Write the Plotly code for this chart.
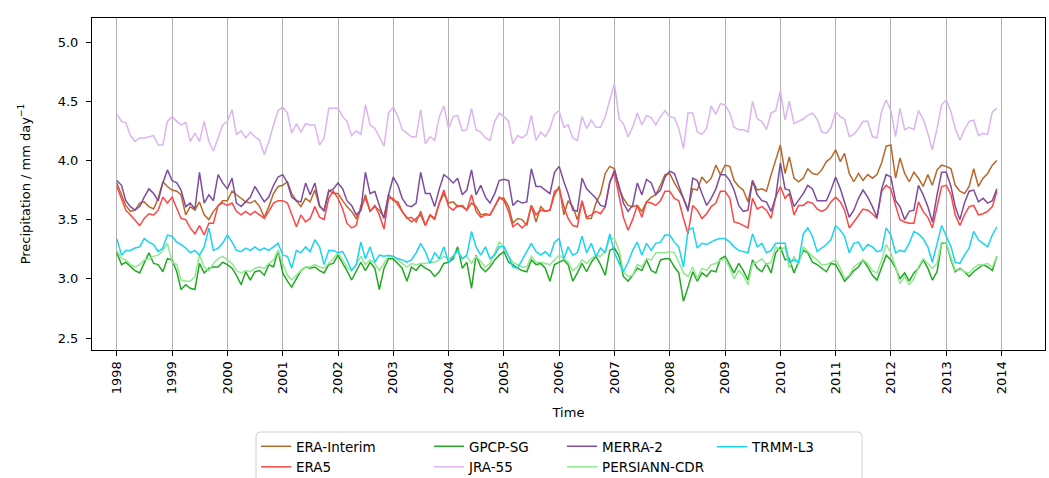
import pandas as pd
import plotly.graph_objects as go

# Monthly time axis, Jan 1998 - Dec 2013
months = pd.date_range("1998-01-01", "2013-12-01", freq="MS")
year_ticks = list(range(1998, 2015))

# Monthly mean precipitation (mm/day), one row per year
era_interim = [
    3.81, 3.71, 3.62, 3.57, 3.58, 3.64, 3.65, 3.61, 3.59, 3.68, 3.82, 3.78,
    3.75, 3.74, 3.71, 3.54, 3.61, 3.58, 3.65, 3.54, 3.50, 3.57, 3.62, 3.66,
    3.66, 3.74, 3.71, 3.68, 3.65, 3.64, 3.66, 3.61, 3.52, 3.61, 3.72, 3.78,
    3.79, 3.82, 3.72, 3.66, 3.61, 3.68, 3.65, 3.75, 3.61, 3.58, 3.75, 3.72,
    3.72, 3.66, 3.61, 3.57, 3.51, 3.58, 3.71, 3.57, 3.61, 3.58, 3.52, 3.71,
    3.66, 3.65, 3.57, 3.52, 3.48, 3.51, 3.54, 3.45, 3.54, 3.50, 3.64, 3.72,
    3.64, 3.65, 3.61, 3.62, 3.58, 3.64, 3.61, 3.54, 3.55, 3.54, 3.61, 3.68,
    3.68, 3.61, 3.47, 3.51, 3.50, 3.45, 3.62, 3.48, 3.61, 3.57, 3.58, 3.71,
    3.78, 3.54, 3.66, 3.61, 3.50, 3.65, 3.51, 3.51, 3.64, 3.72, 3.89, 3.95,
    3.93, 3.76, 3.68, 3.62, 3.61, 3.62, 3.57, 3.65, 3.69, 3.71, 3.79, 3.88,
    3.89, 3.81, 3.75, 3.68, 3.59, 3.76, 3.75, 3.86, 3.81, 3.85, 3.96, 3.88,
    3.96, 3.95, 3.83, 3.78, 3.75, 3.65, 3.83, 3.75, 3.76, 3.74, 3.88, 4.00,
    4.13, 3.89, 4.03, 3.85, 3.82, 3.85, 3.93, 3.89, 3.88, 3.92, 3.99, 4.02,
    4.09, 3.99, 4.06, 3.89, 3.82, 3.89, 3.83, 3.88, 3.85, 3.88, 3.98, 4.12,
    4.13, 3.85, 4.02, 3.89, 3.82, 3.90, 3.85, 3.78, 3.88, 3.79, 3.92, 3.96,
    3.95, 3.93, 3.79, 3.74, 3.72, 3.78, 3.93, 3.78, 3.85, 3.89, 3.96, 4.00,
]

era5 = [
    3.78, 3.68, 3.58, 3.54, 3.50, 3.45, 3.51, 3.55, 3.54, 3.58, 3.69, 3.64,
    3.69, 3.59, 3.51, 3.50, 3.43, 3.38, 3.45, 3.37, 3.47, 3.47, 3.62, 3.64,
    3.62, 3.64, 3.57, 3.54, 3.57, 3.54, 3.57, 3.54, 3.51, 3.57, 3.64, 3.66,
    3.66, 3.64, 3.54, 3.44, 3.54, 3.48, 3.51, 3.61, 3.52, 3.50, 3.68, 3.74,
    3.68, 3.59, 3.47, 3.43, 3.45, 3.62, 3.68, 3.57, 3.62, 3.54, 3.42, 3.68,
    3.68, 3.62, 3.57, 3.51, 3.52, 3.48, 3.57, 3.45, 3.54, 3.51, 3.64, 3.75,
    3.61, 3.58, 3.62, 3.61, 3.58, 3.71, 3.57, 3.52, 3.54, 3.54, 3.61, 3.69,
    3.66, 3.57, 3.44, 3.47, 3.43, 3.47, 3.62, 3.54, 3.58, 3.57, 3.58, 3.74,
    3.76, 3.61, 3.51, 3.45, 3.44, 3.66, 3.52, 3.54, 3.57, 3.55, 3.61, 3.82,
    3.89, 3.69, 3.52, 3.41, 3.50, 3.62, 3.52, 3.65, 3.64, 3.62, 3.66, 3.74,
    3.74, 3.68, 3.66, 3.51, 3.38, 3.62, 3.58, 3.51, 3.55, 3.61, 3.64, 3.74,
    3.74, 3.68, 3.48, 3.47, 3.45, 3.43, 3.68, 3.59, 3.61, 3.58, 3.51, 3.69,
    3.78, 3.68, 3.72, 3.54, 3.62, 3.62, 3.65, 3.64, 3.59, 3.57, 3.59, 3.65,
    3.69, 3.65, 3.58, 3.43, 3.48, 3.54, 3.59, 3.58, 3.55, 3.51, 3.74, 3.79,
    3.76, 3.62, 3.50, 3.48, 3.47, 3.47, 3.65, 3.57, 3.52, 3.43, 3.61, 3.78,
    3.79, 3.71, 3.54, 3.45, 3.54, 3.61, 3.62, 3.54, 3.55, 3.57, 3.61, 3.74,
]

gpcp_sg = [
    3.22, 3.12, 3.14, 3.10, 3.07, 3.05, 3.13, 3.22, 3.13, 3.12, 3.06, 3.17,
    3.16, 3.06, 2.91, 2.95, 2.92, 2.91, 3.13, 3.05, 3.09, 3.10, 3.10, 3.14,
    3.12, 3.09, 3.03, 2.95, 3.06, 2.99, 3.06, 3.07, 3.03, 3.12, 3.10, 3.24,
    3.05, 2.98, 2.93, 3.00, 3.07, 3.10, 3.09, 3.10, 3.07, 3.05, 3.12, 3.13,
    3.20, 3.13, 3.07, 2.99, 3.06, 3.14, 3.07, 3.14, 3.09, 2.91, 3.09, 3.17,
    3.17, 3.13, 3.09, 2.98, 3.10, 3.07, 3.12, 3.09, 3.07, 3.02, 3.06, 3.13,
    3.14, 3.17, 3.27, 3.09, 3.14, 2.92, 3.20, 3.10, 3.06, 3.10, 3.16, 3.20,
    3.23, 3.14, 3.12, 3.09, 3.07, 3.06, 3.16, 3.12, 3.13, 3.09, 2.98, 3.12,
    3.14, 3.16, 3.12, 2.98, 3.05, 3.13, 3.06, 3.14, 3.19, 3.12, 3.03, 3.24,
    3.26, 3.19, 3.02, 2.98, 3.03, 3.09, 3.07, 3.16, 3.07, 3.05, 3.16, 3.17,
    3.17, 3.10, 3.05, 2.81, 2.93, 3.06, 2.98, 3.05, 3.02, 3.07, 3.06, 3.17,
    3.19, 3.12, 3.05, 3.13, 3.07, 2.99, 3.16, 3.09, 3.06, 3.13, 3.05, 3.22,
    3.27, 3.16, 3.17, 3.05, 3.14, 3.24, 3.22, 3.14, 3.12, 3.09, 3.06, 3.13,
    3.12, 3.05, 2.98, 3.02, 3.07, 3.10, 3.16, 3.10, 3.03, 2.99, 3.09, 3.20,
    3.16, 3.09, 3.00, 3.05, 2.98, 3.05, 3.09, 3.16, 3.09, 2.99, 3.06, 3.30,
    3.30, 3.16, 3.06, 3.09, 3.06, 3.02, 3.06, 3.09, 3.12, 3.10, 3.07, 3.19,
]

jra55 = [
    4.39, 4.33, 4.32, 4.21, 4.16, 4.19, 4.19, 4.20, 4.21, 4.13, 4.13, 4.33,
    4.37, 4.33, 4.30, 4.32, 4.16, 4.23, 4.16, 4.33, 4.16, 4.08, 4.19, 4.30,
    4.33, 4.43, 4.22, 4.25, 4.19, 4.24, 4.20, 4.17, 4.05, 4.16, 4.30, 4.42,
    4.45, 4.40, 4.23, 4.31, 4.24, 4.31, 4.30, 4.30, 4.13, 4.19, 4.44, 4.44,
    4.44, 4.37, 4.33, 4.21, 4.25, 4.22, 4.47, 4.30, 4.27, 4.20, 4.12, 4.40,
    4.45, 4.37, 4.26, 4.23, 4.20, 4.20, 4.43, 4.14, 4.20, 4.17, 4.37, 4.46,
    4.27, 4.37, 4.38, 4.25, 4.26, 4.44, 4.26, 4.24, 4.19, 4.17, 4.33, 4.40,
    4.37, 4.33, 4.14, 4.21, 4.19, 4.22, 4.38, 4.17, 4.24, 4.20, 4.27, 4.39,
    4.42, 4.28, 4.30, 4.19, 4.17, 4.37, 4.27, 4.34, 4.28, 4.28, 4.37, 4.51,
    4.65, 4.35, 4.31, 4.20, 4.28, 4.40, 4.30, 4.38, 4.36, 4.30, 4.37, 4.42,
    4.37, 4.36, 4.27, 4.10, 4.40, 4.40, 4.24, 4.22, 4.27, 4.46, 4.39, 4.48,
    4.47, 4.40, 4.28, 4.26, 4.26, 4.24, 4.50, 4.35, 4.33, 4.26, 4.40, 4.42,
    4.59, 4.34, 4.50, 4.31, 4.33, 4.35, 4.38, 4.40, 4.35, 4.24, 4.23, 4.28,
    4.41, 4.37, 4.35, 4.20, 4.22, 4.27, 4.33, 4.33, 4.20, 4.19, 4.42, 4.51,
    4.42, 4.20, 4.44, 4.26, 4.28, 4.26, 4.42, 4.35, 4.23, 4.09, 4.27, 4.47,
    4.51, 4.41, 4.27, 4.17, 4.26, 4.33, 4.34, 4.21, 4.23, 4.22, 4.41, 4.44,
]

merra2 = [
    3.83, 3.79, 3.66, 3.61, 3.58, 3.61, 3.69, 3.76, 3.72, 3.66, 3.81, 3.92,
    3.83, 3.81, 3.75, 3.61, 3.64, 3.59, 3.90, 3.64, 3.71, 3.66, 3.88, 3.81,
    3.76, 3.85, 3.64, 3.61, 3.65, 3.69, 3.78, 3.71, 3.65, 3.69, 3.79, 3.86,
    3.88, 3.81, 3.69, 3.66, 3.65, 3.81, 3.71, 3.81, 3.62, 3.57, 3.74, 3.76,
    3.81, 3.76, 3.66, 3.62, 3.54, 3.58, 3.90, 3.72, 3.74, 3.62, 3.51, 3.71,
    3.86, 3.79, 3.68, 3.62, 3.61, 3.64, 3.90, 3.72, 3.72, 3.61, 3.76, 3.88,
    3.85, 3.81, 3.85, 3.71, 3.75, 3.92, 3.71, 3.79, 3.69, 3.64, 3.72, 3.83,
    3.84, 3.83, 3.62, 3.66, 3.64, 3.65, 3.93, 3.78, 3.78, 3.75, 3.72, 3.90,
    3.95, 3.82, 3.72, 3.58, 3.57, 3.85, 3.76, 3.72, 3.68, 3.62, 3.61, 3.81,
    3.92, 3.78, 3.64, 3.57, 3.62, 3.81, 3.71, 3.84, 3.81, 3.71, 3.75, 3.86,
    3.91, 3.89, 3.79, 3.68, 3.57, 3.85, 3.83, 3.72, 3.62, 3.68, 3.76, 3.88,
    3.88, 3.83, 3.75, 3.62, 3.57, 3.58, 3.83, 3.71, 3.66, 3.65, 3.57, 3.69,
    3.98, 3.76, 3.75, 3.61, 3.66, 3.72, 3.79, 3.76, 3.66, 3.66, 3.66, 3.75,
    3.86, 3.76, 3.64, 3.52, 3.58, 3.68, 3.75, 3.69, 3.61, 3.52, 3.76, 3.88,
    3.86, 3.66, 3.61, 3.50, 3.57, 3.58, 3.79, 3.71, 3.61, 3.48, 3.71, 3.90,
    3.90, 3.78, 3.61, 3.50, 3.64, 3.74, 3.75, 3.65, 3.68, 3.64, 3.66, 3.76,
]

persiann_cdr = [
    3.24, 3.17, 3.16, 3.12, 3.10, 3.12, 3.16, 3.17, 3.19, 3.20, 3.24, 3.30,
    3.14, 3.12, 2.99, 2.98, 2.98, 3.02, 3.20, 3.10, 3.07, 3.13, 3.17, 3.19,
    3.16, 3.13, 3.07, 3.05, 3.07, 3.06, 3.09, 3.10, 3.09, 3.13, 3.16, 3.24,
    3.13, 3.03, 2.99, 3.03, 3.07, 3.10, 3.10, 3.12, 3.10, 3.09, 3.13, 3.17,
    3.22, 3.16, 3.10, 3.07, 3.12, 3.19, 3.12, 3.16, 3.13, 3.07, 3.13, 3.19,
    3.19, 3.16, 3.13, 3.10, 3.13, 3.12, 3.13, 3.13, 3.14, 3.14, 3.16, 3.19,
    3.17, 3.19, 3.23, 3.17, 3.19, 3.13, 3.19, 3.14, 3.10, 3.13, 3.22, 3.31,
    3.27, 3.19, 3.14, 3.12, 3.10, 3.10, 3.19, 3.14, 3.14, 3.13, 3.12, 3.16,
    3.20, 3.17, 3.14, 3.07, 3.10, 3.16, 3.13, 3.17, 3.20, 3.19, 3.23, 3.34,
    3.34, 3.24, 3.06, 3.02, 3.03, 3.12, 3.10, 3.17, 3.16, 3.22, 3.22, 3.22,
    3.23, 3.22, 3.14, 3.05, 3.02, 3.10, 3.00, 3.09, 3.07, 3.12, 3.13, 3.16,
    3.17, 3.09, 3.00, 3.07, 3.03, 2.95, 3.13, 3.14, 3.17, 3.12, 3.14, 3.27,
    3.24, 3.27, 3.09, 3.19, 3.12, 3.27, 3.23, 3.19, 3.16, 3.12, 3.12, 3.14,
    3.16, 3.09, 3.00, 3.03, 3.10, 3.13, 3.16, 3.13, 3.07, 3.05, 3.16, 3.29,
    3.22, 3.10, 2.96, 3.02, 2.95, 3.00, 3.10, 3.17, 3.13, 3.09, 3.13, 3.31,
    3.30, 3.17, 3.07, 3.09, 3.06, 3.05, 3.09, 3.12, 3.12, 3.13, 3.10, 3.19,
]

trmm_l3 = [
    3.34, 3.20, 3.24, 3.24, 3.26, 3.27, 3.34, 3.31, 3.29, 3.23, 3.26, 3.37,
    3.36, 3.31, 3.29, 3.26, 3.22, 3.24, 3.20, 3.27, 3.43, 3.24, 3.26, 3.30,
    3.37, 3.31, 3.24, 3.23, 3.26, 3.24, 3.27, 3.24, 3.26, 3.24, 3.27, 3.30,
    3.20, 3.19, 3.09, 3.24, 3.22, 3.27, 3.23, 3.33, 3.27, 3.12, 3.24, 3.24,
    3.22, 3.23, 3.16, 3.07, 3.12, 3.31, 3.17, 3.27, 3.14, 3.20, 3.19, 3.20,
    3.19, 3.17, 3.16, 3.14, 3.16, 3.22, 3.30, 3.23, 3.13, 3.22, 3.17, 3.27,
    3.14, 3.19, 3.24, 3.17, 3.20, 3.40, 3.27, 3.20, 3.27, 3.17, 3.20, 3.27,
    3.27, 3.19, 3.10, 3.09, 3.16, 3.23, 3.30, 3.23, 3.20, 3.23, 3.19, 3.31,
    3.34, 3.17, 3.27, 3.20, 3.22, 3.36, 3.22, 3.30, 3.19, 3.26, 3.22, 3.38,
    3.22, 3.13, 3.06, 3.14, 3.24, 3.31, 3.20, 3.30, 3.24, 3.30, 3.31, 3.37,
    3.37, 3.31, 3.27, 3.10, 3.41, 3.43, 3.26, 3.30, 3.29, 3.31, 3.33, 3.34,
    3.34, 3.31, 3.27, 3.24, 3.23, 3.22, 3.38, 3.27, 3.30, 3.22, 3.24, 3.30,
    3.30, 3.30, 3.14, 3.16, 3.14, 3.38, 3.43, 3.36, 3.23, 3.26, 3.29, 3.33,
    3.45, 3.41, 3.36, 3.22, 3.30, 3.31, 3.24, 3.29, 3.27, 3.23, 3.24, 3.43,
    3.37, 3.22, 3.24, 3.23, 3.30, 3.40, 3.38, 3.34, 3.27, 3.14, 3.31, 3.45,
    3.36, 3.27, 3.14, 3.13, 3.20, 3.26, 3.40, 3.33, 3.30, 3.27, 3.37, 3.44,
]

# name, values, colour, legend column
series = [
    ("ERA-Interim", era_interim, "#b8682a", "legend"),
    ("ERA5", era5, "#ff4545", "legend"),
    ("GPCP-SG", gpcp_sg, "#22a822", "legend2"),
    ("JRA-55", jra55, "#dcb4f0", "legend2"),
    ("MERRA-2", merra2, "#7d4c9e", "legend3"),
    ("PERSIANN-CDR", persiann_cdr, "#90e890", "legend3"),
    ("TRMM-L3", trmm_l3, "#18d4f2", "legend4"),
]

FONT = "DejaVu Sans"

fig = go.Figure()
for name, vals, color, leg in series:
    fig.add_trace(go.Scatter(
        x=months, y=vals, mode="lines", name=name,
        line=dict(color=color, width=1.5),
        legend=leg,
    ))

W, H = 1049, 478
L, R, T, B = 92, 4, 18, 128
pw, ph = W - L - R, H - T - B


def px_x(p):
    return (p - L) / pw


def px_y(p):
    return (H - B - p) / ph


def legend_column(left, center_y=457):
    return dict(
        orientation="v", xanchor="left", yanchor="middle",
        x=px_x(left), y=px_y(center_y),
        font=dict(family=FONT, size=13.5, color="#000"),
        bgcolor="rgba(0,0,0,0)", borderwidth=0, itemwidth=30,
        tracegroupgap=0,
    )


# legend frame with rounded corners
fx0, fx1 = px_x(256), px_x(862)
fy0, fy1 = px_y(432), px_y(520)
rx, ry = 4 / pw, 4 / ph
frame = (
    f"M {fx0 + rx},{fy0} L {fx1 - rx},{fy0} Q {fx1},{fy0} {fx1},{fy0 - ry} "
    f"L {fx1},{fy1} L {fx0},{fy1} L {fx0},{fy0 - ry} Q {fx0},{fy0} {fx0 + rx},{fy0} Z"
)

fig.update_layout(
    width=W, height=H,
    margin=dict(l=L, r=R, t=T, b=B, autoexpand=False),
    paper_bgcolor="white", plot_bgcolor="white",
    font=dict(family=FONT, size=13, color="#000"),
    showlegend=True,
    legend=legend_column(256),
    legend2=legend_column(429),
    legend3=legend_column(562),
    legend4=legend_column(712, center_y=447),
    shapes=[dict(type="path", path=frame, xref="paper", yref="paper",
                 line=dict(color="#d0d0d0", width=1), fillcolor="rgba(0,0,0,0)",
                 layer="below")],
)

fig.update_xaxes(
    type="date",
    range=["1997-07-21", "2014-10-15"],
    tickvals=[f"{y}-01-01" for y in year_ticks],
    ticktext=[str(y) for y in year_ticks],
    tickangle=-90,
    ticks="outside", ticklen=5, tickcolor="#000",
    showgrid=True, gridcolor="#b0b0b0", gridwidth=1.2,
    showline=True, linecolor="#000", linewidth=1, mirror=True,
    zeroline=False,
    title=dict(text="Time", standoff=14, font=dict(family=FONT, size=13)),
)

fig.update_yaxes(
    range=[2.399, 5.203],
    tickvals=[2.5, 3.0, 3.5, 4.0, 4.5, 5.0],
    ticktext=["2.5", "3.0", "3.5", "4.0", "4.5", "5.0"],
    ticks="outside", ticklen=5, tickcolor="#000",
    ticklabelstandoff=5,
    showgrid=False, zeroline=False,
    showline=True, linecolor="#000", linewidth=1, mirror=True,
    title=dict(text="Precipitation / mm day<sup>\u22121</sup>", standoff=24,
               font=dict(family=FONT, size=13)),
)

fig.write_html("out.html")
